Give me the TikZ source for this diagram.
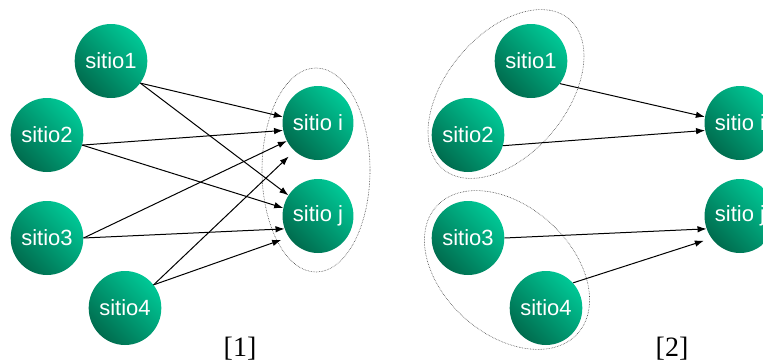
\documentclass[tikz,border=0pt]{standalone}
\usepackage{fontspec}
\setmainfont{Liberation Serif}
\newfontfamily\helv{Liberation Sans}
\usetikzlibrary{arrows.meta,shapes.geometric}
\definecolor{verdeclaro}{RGB}{0,200,150}
\definecolor{verdeoscuro}{RGB}{0,108,78}
\tikzset{
	sitio/.style={ellipse, minimum width=68pt, minimum height=74pt, inner sep=0pt,
		top color=verdeclaro, bottom color=verdeoscuro, shading angle=-45,
		text=white, font=\helv\fontsize{22}{26}\selectfont},
	enlace/.style={line width=1pt, -{Latex[length=9pt,width=6.5pt]}},
	grupo/.style={densely dotted, line width=0.6pt, black!75},
	rotulo/.style={font=\fontsize{28}{32}\selectfont},
}

\begin{document}
\begin{tikzpicture}[x=1pt,y=-1pt]
	%%%%% START %%%%%
	\useasboundingbox (0,0) rectangle (763,362);
	\clip (0,0) rectangle (763,362);
	
	%%%%% [1] %%%%%
	\node[sitio] (a1) at (111,61) {sitio1};
	\node[sitio] (a2) at (47,135) {sitio2};
	\node[sitio] (a3) at (47,238) {sitio3};
	\node[sitio] (a4) at (125,308) {sitio4};
	\node[sitio] (ai) at (318,123) {sitio i};
	\node[sitio] (aj) at (318,216) {sitio j};
	
	\draw[grupo] (316,170) ellipse [x radius=54, y radius=102];
	
	\draw[enlace] (a1.-37) -- (ai.170);
	\draw[enlace] (a1.-37) -- (aj.145);
	\draw[enlace] (a2.-16) -- (ai.-168);
	\draw[enlace] (a2.-16) -- (aj.167);
	\draw[enlace] (a3.0) -- (ai.-150);
	\draw[enlace] (a3.0) -- (aj.-159);
	\draw[enlace, shorten >=8pt] (a4.39) -- (ai.-130);
	\draw[enlace, shorten >=8pt] (a4.39) -- (aj.-144);
	
	\node[rotulo] (r1) at (240,349) {[1]};
	
	%%%%% [2] %%%%%
	\node[sitio] (b1) at (531,61) {sitio1};
	\node[sitio] (b2) at (468,135) {sitio2};
	\node[sitio] (b3) at (468,238) {sitio3};
	\node[sitio] (b4) at (546,308) {sitio4};
	\node[sitio] (bi) at (740,123) {sitio i};
	\node[sitio] (bj) at (740,216) {sitio j};
	
	\draw[grupo, rotate around={50:(506,94)}] (506,94) ellipse [x radius=98, y radius=60];
	\draw[grupo, rotate around={-42:(507,270)}] (507,270) ellipse [x radius=95, y radius=64];
	
	\draw[enlace] (b1.-38) -- (bi.170);
	\draw[enlace] (b2.-17) -- (bi.-168);
	\draw[enlace] (b3.0) -- (bj.-159);
	\draw[enlace, shorten >=8pt] (b4.43) -- (bj.-142);
	
	\node[rotulo] (r2) at (672,349) {[2]};
	
	%%%%% END %%%%%
\end{tikzpicture}
\end{document}
